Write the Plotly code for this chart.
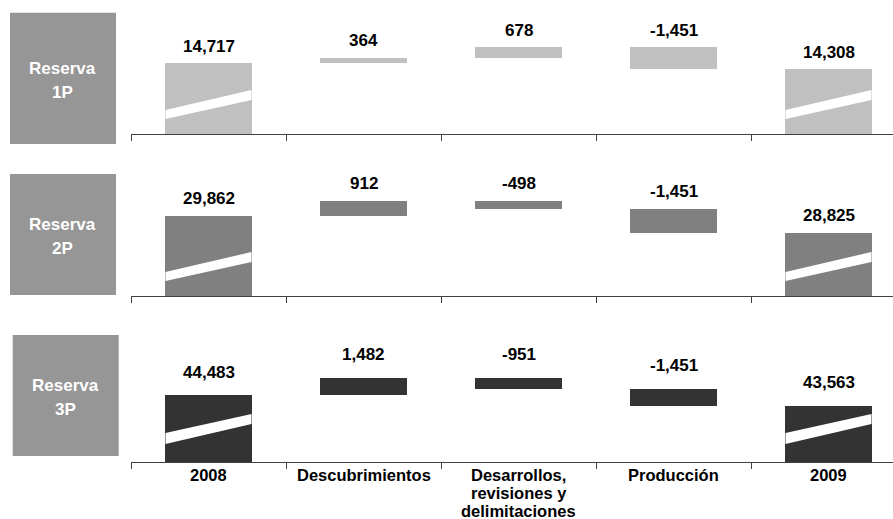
import plotly.graph_objects as go

# --- data -------------------------------------------------------------
categories = ["2008", "Descubrimientos", "Desarrollos,\nrevisiones y\ndelimitaciones",
              "Producción", "2009"]
measures = ["total", "delta", "delta", "delta", "total"]

reserva_1p = [14717, 364, 678, -1451, 14308]
reserva_2p = [29862, 912, -498, -1451, 28825]
reserva_3p = [44483, 1482, -951, -1451, 43563]

panel_names = ["1P", "2P", "3P"]
panel_values = [reserva_1p, reserva_2p, reserva_3p]

# --- styling / layout constants --------------------------------------
W, H = 893, 519
FONT = "Liberation Sans, Arial, sans-serif"
bar_colors = ["#c0c0c0", "#808080", "#333333"]
box_color = "#969696"
axis_color = "#404040"
bar_width = 0.555

# per-panel geometry in pixels: axis bottom, panel top, value at axis, units per pixel
panels_geo = [
    dict(bottom=134, top=0, base=10000, upp=66.5, label_gap=17,
         box=(10, 12.7, 116, 144), slash=(15, 24, 34, 44)),
    dict(bottom=296, top=150, base=25000, upp=60.75, label_gap=17.5,
         box=(10, 174, 116, 295), slash=(15, 24, 34, 44)),
    dict(bottom=462, top=320, base=38788, upp=85, label_gap=23,
         box=(12.7, 335, 118.7, 456), slash=(18, 29, 38, 48)),
]

x_left_px = 131
x_range = [-0.5, -0.5 + (W - x_left_px) / 155.0]


def py(p):
    return 1 - p / H


def px(p):
    return p / W


fig = go.Figure()
shapes = []
annotations = []

for k, (name, vals, geo) in enumerate(zip(panel_names, panel_values, panels_geo)):
    sfx = "" if k == 0 else str(k + 1)
    xref, yref = "x" + sfx, "y" + sfx

    # waterfall bases from running total
    bases, heights, tops = [], [], []
    running = 0
    for m, v in zip(measures, vals):
        if m == "total":
            bases.append(0)
            heights.append(v)
            running = v
            tops.append(v)
        else:
            bases.append(running)
            heights.append(v)
            tops.append(max(running, running + v))
            running += v

    xs = list(range(len(vals)))
    fig.add_trace(go.Bar(
        x=xs, y=heights, base=bases, width=bar_width,
        marker=dict(color=bar_colors[k], line=dict(width=0)),
        xaxis=xref, yaxis=yref, hoverinfo="skip", showlegend=False,
    ))

    # value labels
    for i, (v, t) in enumerate(zip(vals, tops)):
        annotations.append(dict(
            x=i, y=t, xref=xref, yref=yref, text=f"<b>{v:,}</b>",
            showarrow=False, yanchor="middle", yshift=geo["label_gap"],
            font=dict(family=FONT, size=17, color="#000000"),
        ))

    # white break band across the total bars
    l0, l1, r0, r1 = geo["slash"]
    to_val = lambda p: geo["base"] + p * geo["upp"]
    for i, m in enumerate(measures):
        if m != "total":
            continue
        xa, xb = i - bar_width / 2, i + bar_width / 2
        path = (f"M {xa},{to_val(l0)} L {xb},{to_val(r0)} "
                f"L {xb},{to_val(r1)} L {xa},{to_val(l1)} Z")
        shapes.append(dict(type="path", path=path, xref=xref, yref=yref,
                           fillcolor="white", line=dict(width=0), layer="above"))

    # grey side box with reserve name
    bx0, by0, bx1, by1 = geo["box"]
    shapes.append(dict(type="rect", xref="paper", yref="paper",
                       x0=px(bx0), x1=px(bx1), y0=py(by1), y1=py(by0),
                       fillcolor=box_color, line=dict(width=0), layer="below"))
    cx, cy = (bx0 + bx1) / 2, (by0 + by1) / 2
    for txt, off in (("Reserva", -10), (name, 14)):
        annotations.append(dict(
            x=px(cx), y=py(cy + off), xref="paper", yref="paper",
            text=f"<b>{txt}</b>", showarrow=False,
            xanchor="center", yanchor="middle",
            font=dict(family=FONT, size=17, color="white"),
        ))

    ydom = [py(geo["bottom"]), py(geo["top"])]
    yrange = [geo["base"], geo["base"] + (geo["bottom"] - geo["top"]) * geo["upp"]]
    fig.update_layout(**{
        "xaxis" + sfx: dict(
            domain=[px(x_left_px), 1], range=x_range, anchor=yref,
            tickmode="array", tickvals=[-0.5, 0.5, 1.5, 2.5, 3.5, 4.5],
            showticklabels=False, ticks="outside", ticklen=6, tickwidth=1,
            tickcolor=axis_color, showline=True, linecolor=axis_color,
            linewidth=1, showgrid=False, zeroline=False, fixedrange=True,
        ),
        "yaxis" + sfx: dict(
            domain=ydom, range=yrange, anchor=xref, visible=False,
            showgrid=False, zeroline=False, fixedrange=True,
        ),
    })

# category labels under the bottom panel, one tight annotation per line
first_line_px = panels_geo[-1]["bottom"] + 13
line_step = 18
for i, cat in enumerate(categories):
    for j, line in enumerate(cat.split("\n")):
        annotations.append(dict(
            x=i, y=py(first_line_px + line_step * j), xref="x3", yref="paper",
            text=f"<b>{line}</b>", showarrow=False,
            xanchor="center", yanchor="middle", borderpad=0, height=line_step,
            font=dict(family=FONT, size=16.5, color="#000000"),
        ))

fig.update_layout(
    width=W, height=H,
    margin=dict(l=0, r=0, t=0, b=0),
    paper_bgcolor="white", plot_bgcolor="white",
    barmode="overlay", bargap=0,
    shapes=shapes, annotations=annotations,
    showlegend=False,
)

fig.write_html("out.html")
